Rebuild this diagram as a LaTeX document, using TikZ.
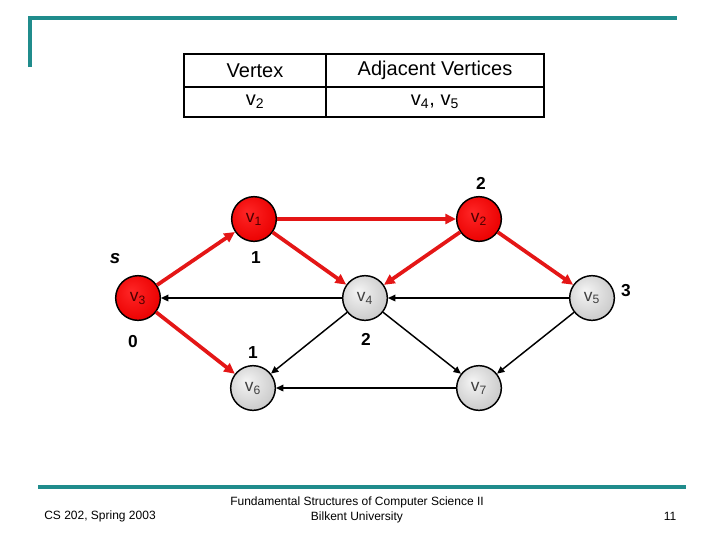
\documentclass[tikz,border=0pt]{standalone}
\usepackage{fontspec}
\setmainfont{Liberation Sans}
\usetikzlibrary{arrows.meta}

\definecolor{slideteal}{RGB}{32,140,140}
\definecolor{pathred}{RGB}{228,22,22}
\pgfdeclareradialshading{greyball}{\pgfpoint{-8bp}{8bp}}{color(0bp)=(black!4); color(28bp)=(black!20); color(50bp)=(black!42)}
\pgfdeclareradialshading{redball}{\pgfpoint{-8bp}{8bp}}{color(0bp)=(red!85!white); color(30bp)=(red!92!black); color(50bp)=(red!65!black)}

\tikzstyle{vertex} = [circle, draw=black, line width=1.1pt, minimum size=33.5pt,
    inner sep=0pt, text=black!75, font=\fontsize{13}{15}\selectfont]
\tikzstyle{visited} = [vertex, shading=redball, text=red!30!black]
\tikzstyle{unvisited} = [vertex, shading=greyball]
\tikzstyle{treelink} = [draw=pathred, line width=2.8pt, -{Triangle[length=8pt,width=7.5pt]}]
\tikzstyle{link} = [draw=black, line width=1.1pt, -{Triangle[length=5.5pt,width=5pt]}]
\tikzstyle{dist} = [font=\fontsize{13}{15}\selectfont\bfseries]
\tikzstyle{cell} = [draw=black, line width=1.6pt, inner sep=0pt, font=\fontsize{15}{18}\selectfont]
\tikzstyle{footer} = [font=\fontsize{9}{11}\selectfont, align=center]
\tikzstyle{slideline} = [draw=slideteal, line width=2.3pt]

\begin{document}
\begin{tikzpicture}[x=0.75pt, y=-0.75pt]
\useasboundingbox (0,0) rectangle (720,540);

% slide frame
\draw[slideline] (30,67) -- (30,18) -- (677,18);
\draw[slideline] (38,487) -- (686,487);

% adjacency table
\node[cell, minimum width=106.5pt, minimum height=24.75pt] (vhead) at (255,70.5) {Vertex};
\node[cell, minimum width=163.5pt, minimum height=24.75pt] (ahead) at (435,70.5) {Adjacent Vertices};
\node[cell, minimum width=106.5pt, minimum height=22.5pt] (vcell) at (255,102) {v\textsubscript{2}};
\node[cell, minimum width=163.5pt, minimum height=22.5pt] (acell) at (435,102) {v\textsubscript{4}, v\textsubscript{5}};

% vertices
\node[visited] (v1) at (254,219) {v\textsubscript{1}};
\node[visited] (v2) at (479,219) {v\textsubscript{2}};
\node[visited] (v3) at (138,298) {v\textsubscript{3}};
\node[unvisited] (v4) at (365,298) {v\textsubscript{4}};
\node[unvisited] (v5) at (592,298) {v\textsubscript{5}};
\node[unvisited] (v6) at (253,388) {v\textsubscript{6}};
\node[unvisited] (v7) at (479,388) {v\textsubscript{7}};

% distances
\node[dist] (d2) at (481,183) {2};
\node[dist] (d1) at (256,258) {1};
\node[dist, font=\fontsize{14}{16}\selectfont\bfseries\itshape] (src) at (115,259) {s};
\node[dist] (d3) at (133,342) {0};
\node[dist] (d4) at (366,339) {2};
\node[dist] (d6) at (253,353) {1};
\node[dist] (d5) at (626,291) {3};

% edges
\draw[link] (v4) -- (v3);
\draw[link] (v5) -- (v4);
\draw[link] (v7) -- (v6);
\draw[link] (v4) -- (v6);
\draw[link] (v4) -- (v7);
\draw[link] (v5) -- (v7);
\draw[treelink] (v3) -- (v1);
\draw[treelink] (v3) -- (v6);
\draw[treelink] (v1) -- (v2);
\draw[treelink] (v1) -- (v4);
\draw[treelink] (v2) -- (v4);
\draw[treelink] (v2) -- (v5);

% footer
\node[footer] (course) at (100,516) {CS 202, Spring 2003};
\node[footer] (title) at (357,510) {Fundamental Structures of Computer Science II\\Bilkent University};
\node[footer] (page) at (670,516) {11};
\end{tikzpicture}
\end{document}
